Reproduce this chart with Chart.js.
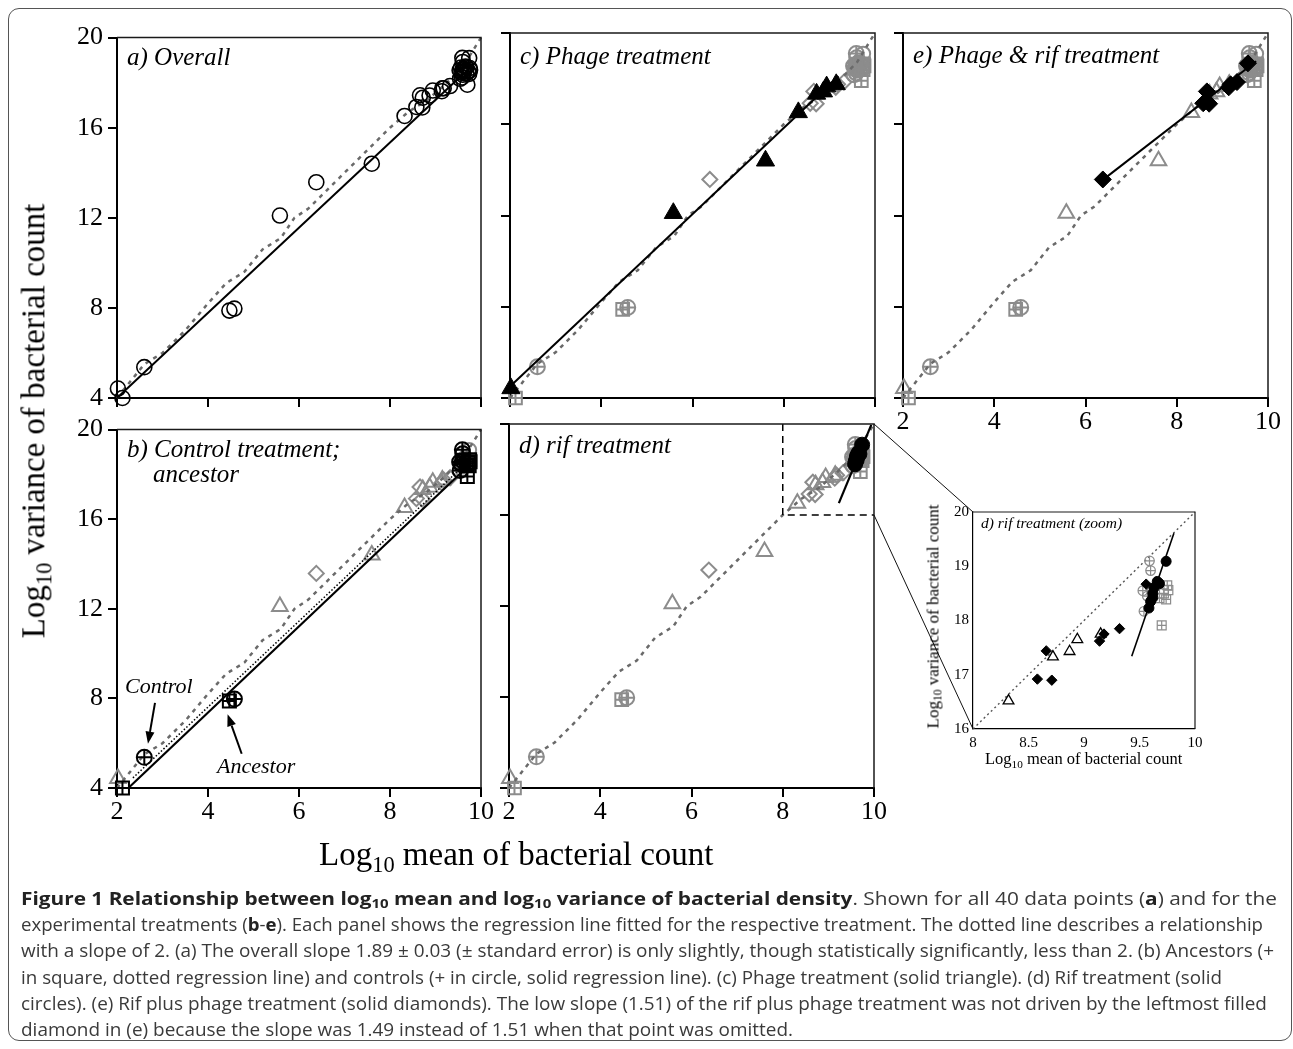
<!DOCTYPE html>
<html><head><meta charset="utf-8">
<script src="https://cdn.jsdelivr.net/npm/chart.js@4.4.1/dist/chart.umd.min.js"></script>
<style>
html,body{margin:0;padding:0;background:#fff}
body{width:1293px;height:1049px;position:relative;overflow:hidden}
canvas{position:absolute}
.t{position:absolute;white-space:nowrap;color:#000;font-family:'Liberation Serif','Times New Roman',serif}
.it{font-style:italic}
.sub{font-size:0.68em;position:relative;top:0.3em}
#border{position:absolute;left:8px;top:8px;width:1284px;height:1033px;border:1px solid #555;border-radius:11px;box-sizing:border-box}
#caption{position:absolute;left:21px;top:884.7px;font-family:'Open Sans',sans-serif;font-size:18px;line-height:26.3px;color:#3a3a3a}
#caption div{white-space:nowrap;width:max-content;transform-origin:0 0}
#caption b{color:#222}
#caption .cs{font-size:0.72em;position:relative;top:0.28em;line-height:0}
</style></head><body>
<div id="border"></div>
<canvas id="cA"></canvas>
<canvas id="cC"></canvas>
<canvas id="cE"></canvas>
<canvas id="cB"></canvas>
<canvas id="cD"></canvas>
<canvas id="cI"></canvas>
<canvas id="overlay" width="1293" height="1049" style="left:0;top:0;pointer-events:none"></canvas>

<div class="t it" id="tA">a) Overall</div>
<div class="t it" id="tC">c) Phage treatment</div>
<div class="t it" id="tE">e) Phage &amp; rif treatment</div>
<div class="t it" id="tB1">b) Control treatment;</div>
<div class="t it" id="tB2">ancestor</div>
<div class="t it" id="tD">d) rif treatment</div>
<div class="t it" id="tCtrl">Control</div>
<div class="t it" id="tAnc">Ancestor</div>
<div class="t it" id="tI">d) rif treatment (zoom)</div>
<div class="t" id="yTitle">Log<span class="sub">10</span> variance of bacterial count</div>
<div class="t" id="xTitle">Log<span class="sub">10</span> mean of bacterial count</div>
<div class="t" id="iyTitle">Log<span class="sub">10</span> variance of bacterial count</div>
<div class="t" id="ixTitle">Log<span class="sub">10</span> mean of bacterial count</div>

<div id="caption">
<div><b>Figure 1 Relationship between log<span class="cs">10</span> mean and log<span class="cs">10</span> variance of bacterial density</b>. Shown for all 40 data points (<b>a</b>) and for the</div>
<div>experimental treatments (<b>b</b>-<b>e</b>). Each panel shows the regression line fitted for the respective treatment. The dotted line describes a relationship</div>
<div>with a slope of 2. (a) The overall slope 1.89 ± 0.03 (± standard error) is only slightly, though statistically significantly, less than 2. (b) Ancestors (+</div>
<div>in square, dotted regression line) and controls (+ in circle, solid regression line). (c) Phage treatment (solid triangle). (d) Rif treatment (solid</div>
<div>circles). (e) Rif plus phage treatment (solid diamonds). The low slope (1.51) of the rif plus phage treatment was not driven by the leftmost filled</div>
<div>diamond in (e) because the slope was 1.49 instead of 1.51 when that point was omitted.</div>
</div>

<script>
// ================= DATA =================
// log10 mean (x) and log10 variance (y) per treatment group
const phageMean    = [2.02, 5.58, 7.60, 8.32, 8.72, 8.87, 8.94, 9.15];
const phageVar     = [4.42, 12.10, 14.40, 16.52, 17.33, 17.43, 17.65, 17.75];
const phageRifMean = [6.38, 8.58, 8.66, 8.71, 9.14, 9.18, 9.32, 9.56];
const phageRifVar  = [13.58, 16.92, 17.44, 16.90, 17.62, 17.75, 17.85, 18.67];
const rifMean      = [9.74, 9.66, 9.68, 9.63, 9.62, 9.62, 9.60, 9.585];
const rifVar       = [19.09, 18.72, 18.68, 18.60, 18.50, 18.42, 18.35, 18.23];
const controlMean  = [2.60, 4.58, 9.59, 9.60, 9.53, 9.54, 9.57, 9.60];
const controlVar   = [5.37, 7.97, 19.10, 18.92, 18.55, 18.17, 18.45, 18.60];
const ancestorMean = [2.12, 4.47, 9.75, 9.76, 9.74, 9.70, 9.68, 9.72];
const ancestorVar  = [4.00, 7.88, 18.65, 18.56, 18.39, 17.91, 18.41, 18.50];

// grey reference curve (slope-2 line as drawn)
const slope2Mean = [2.0, 2.6, 3.0, 3.5, 4.0, 4.4, 4.8, 5.2, 5.6, 5.9, 6.2, 6.6, 7.0, 7.5, 8.0, 8.4, 8.8, 9.2, 9.6, 10.0];
const slope2Var  = [4.0, 5.5, 6.0, 7.0, 8.2, 9.1, 9.6, 10.6, 11.1, 12.0, 12.4, 13.2, 14.0, 15.0, 16.0, 16.7, 17.2, 17.9, 18.7, 20.0];

// regression line end points
const regAllMean   = [2.0, 9.75],  regAllVar   = [4.0, 18.65];
const regCtrlMean  = [2.25, 9.68], regCtrlVar  = [4.0, 18.30];
const regAncMean   = [2.35, 9.65], regAncVar   = [4.45, 18.45];
const regPhageMean = [2.0, 9.2],   regPhageVar = [4.5, 18.1];
const regRifMean   = [9.23, 9.94], regRifVar   = [16.52, 19.96];
const regPRMean    = [6.38, 9.74], regPRVar    = [13.56, 18.76];
const insetRegMean = [9.43, 9.81], insetRegVar = [17.34, 19.61];
const insetSlope2Mean = [8, 10],   insetSlope2Var = [16, 20];
const zoomBoxMean  = [8, 8, 10],   zoomBoxVar  = [20, 16, 16];

// annotation arrows in panel b (tail -> head)
const ctrlArrowMean = [2.835, 2.68], ctrlArrowVar = [7.80, 5.98];
const ancArrowMean  = [4.74, 4.43],  ancArrowVar  = [5.53, 7.29];

// ticks
const xTicks = [2, 4, 6, 8, 10];
const yTicks = [4, 8, 12, 16, 20];
const insetXTicks = [8, 8.5, 9, 9.5, 10];
const insetYTicks = [16, 17, 18, 19, 20];

// ================= HELPERS =================
const GREY = '#8c8c8c';
const SERIF = "'Liberation Serif','Times New Roman',serif";
const groups = {
  phage: [phageMean, phageVar],
  phageRif: [phageRifMean, phageRifVar],
  rif: [rifMean, rifVar],
  control: [controlMean, controlVar],
  ancestor: [ancestorMean, ancestorVar]
};
const SHAPE = {phage:'triangle', phageRif:'rectRot', rif:'circle', control:'circle', ancestor:'rect'};
const pts = (xs, ys) => xs.map((x, i) => ({x, y: ys[i]}));

function markers(key, color, radius, filled, lw, clip, shapeOverride) {
  const [xs, ys] = groups[key];
  const data = pts(xs, ys);
  const base = {type:'scatter', showLine:false, clip: clip, pointBorderWidth: lw, pointHoverRadius: radius, pointBorderColor: color};
  const out = [Object.assign({}, base, {data, pointStyle: shapeOverride || SHAPE[key], pointRadius: radius,
      pointBackgroundColor: filled ? color : 'rgba(0,0,0,0)'})];
  if (!shapeOverride && key === 'control') out.push(Object.assign({}, base, {data, pointStyle:'cross', pointRadius: radius}));
  if (!shapeOverride && key === 'ancestor') out.push(Object.assign({}, base, {data, pointStyle:'cross', pointRadius: radius * Math.SQRT1_2}));
  return out;
}
function line(xs, ys, color, width, dash) {
  return {type:'scatter', showLine:true, data: pts(xs, ys), borderColor: color, borderWidth: width,
          borderDash: dash || [], pointRadius: 0, pointHoverRadius: 0, fill:false, tension:0, clip: false};
}
function axisCfg(ticksArr, min, max, showLabels, fontSize, fixed, horiz, tickLen, pad, lw) {
  return {
    type:'linear', min, max,
    afterBuildTicks: s => { s.ticks = ticksArr.map(v => ({value: v})); },
    afterFit: s => { if (horiz) s.height = fixed; else s.width = fixed; },
    grid: {drawOnChartArea:false, drawTicks: tickLen > 0, tickLength: tickLen, color:'#000', lineWidth: lw},
    border: {display:true, color:'#000', width: lw},
    ticks: {display: showLabels, color:'#000', font:{family: SERIF, size: fontSize}, padding: pad, autoSkip:false, maxRotation:0,
            callback: v => String(v)}
  };
}
const framePlugin = {
  id:'frame',
  afterDraw(chart, args, o) {
    const a = chart.chartArea, c = chart.ctx;
    c.save(); c.strokeStyle = '#1a1a1a'; c.lineWidth = o.w || 1.5;
    c.beginPath(); c.moveTo(a.left, a.top); c.lineTo(a.right, a.top); c.lineTo(a.right, a.bottom); c.stroke();
    c.restore();
  }
};
const arrowPlugin = {
  id:'arrows',
  afterDatasetsDraw(chart, args, o) {
    if (!o.list) return;
    const c = chart.ctx, xs = chart.scales.x, ys = chart.scales.y;
    c.save(); c.strokeStyle = '#000'; c.fillStyle = '#000'; c.lineWidth = 2;
    o.list.forEach(([mx, vy]) => {
      const x0 = xs.getPixelForValue(mx[0]), y0 = ys.getPixelForValue(vy[0]);
      const x1 = xs.getPixelForValue(mx[1]), y1 = ys.getPixelForValue(vy[1]);
      const ang = Math.atan2(y1 - y0, x1 - x0), L = 12, W = 4.5;
      const bx = x1 - L * Math.cos(ang), by = y1 - L * Math.sin(ang);
      c.beginPath(); c.moveTo(x0, y0); c.lineTo(bx, by); c.stroke();
      c.beginPath(); c.moveTo(x1, y1);
      c.lineTo(bx + W * Math.sin(ang), by - W * Math.cos(ang));
      c.lineTo(bx - W * Math.sin(ang), by + W * Math.cos(ang));
      c.closePath(); c.fill();
    });
    c.restore();
  }
};

// ================= LAYOUT =================
const PAD_T = 16, PAD_R = 16, YW = 60, XH = 45;
function makePanel(id, plotL, plotT, plotW, plotH, datasets, showX, showY, extra) {
  const cv = document.getElementById(id);
  cv.width = plotW + YW + PAD_R; cv.height = plotH + PAD_T + XH;
  cv.style.left = (plotL - YW) + 'px'; cv.style.top = (plotT - PAD_T) + 'px';
  datasets.forEach((d, i) => { d.order = 1000 - i; });
  return new Chart(cv, {
    data: {datasets},
    options: {
      responsive:false, animation:false, devicePixelRatio:1, events: [],
      layout: {padding: {top: PAD_T, right: PAD_R, left: 0, bottom: 0}},
      scales: {
        x: axisCfg(xTicks, 2, 10, showX, 26, XH, true, 9, 0, 2),
        y: axisCfg(yTicks, 4, 20, showY, 26, YW, false, 9, 5, 2)
      },
      plugins: Object.assign({legend:{display:false}, tooltip:{enabled:false}, frame:{w:1.5}}, extra || {})
    },
    plugins: [framePlugin, arrowPlugin]
  });
}

const allKeys = ['phage', 'phageRif', 'rif', 'control', 'ancestor'];
const greyR = {phage: 9, phageRif: 7.5, rif: 7, control: 7.5, ancestor: 9};
function greySets(keys) {
  let out = [];
  keys.forEach(k => { out = out.concat(markers(k, GREY, greyR[k], false, 2, false)); });
  return out;
}
const curve = () => line(slope2Mean, slope2Var, '#6a6a6a', 2.5, [4, 5]);

// Panel a: all 40 points as open circles
let dsA = [curve(), line(regAllMean, regAllVar, '#000', 2)];
allKeys.forEach(k => { dsA = dsA.concat(markers(k, '#000', 7.5, false, 1.6, false, 'circle')); });
const chA = makePanel('cA', 117, 33, 364, 365, dsA, false, true);

// Panel c: phage
const dsC = greySets(['phageRif', 'rif', 'control', 'ancestor']).concat(
  [curve(), line(regPhageMean, regPhageVar, '#000', 2)], markers('phage', '#000', 10.5, true, 1, false));
const chC = makePanel('cC', 510, 33, 365, 365, dsC, false, false);

// Panel e: phage & rif
const dsE = greySets(['phage', 'rif', 'control', 'ancestor']).concat(
  [curve(), line(regPRMean, regPRVar, '#000', 2)], markers('phageRif', '#000', 8.5, true, 1, false));
const chE = makePanel('cE', 903, 33, 365, 365, dsE, true, false);

// Panel b: control & ancestor
const dsB = greySets(['phage', 'phageRif', 'rif']).concat(
  [curve(), line(regAncMean, regAncVar, '#000', 1.5, [1.5, 2]), line(regCtrlMean, regCtrlVar, '#000', 2.2)],
  markers('ancestor', '#000', 9.2, false, 2, false), markers('control', '#000', 7.5, false, 2, false));
const chB = makePanel('cB', 117, 425, 364, 363, dsB, true, true,
  {arrows: {list: [[ctrlArrowMean, ctrlArrowVar], [ancArrowMean, ancArrowVar]]}});

// Panel d: rif
const dsD = greySets(['phage', 'phageRif', 'control', 'ancestor']).concat(
  [curve(), line(zoomBoxMean, zoomBoxVar, '#000', 1.5, [7, 5]), line(regRifMean, regRifVar, '#000', 2.2)],
  markers('rif', '#000', 7.5, true, 1, false));
const chD = makePanel('cD', 509, 424, 365, 364, dsD, true, false);

// Inset: zoom of rif treatment
const IL = 973, IT = 509, IW = 222, IH = 220, IYW = 28, IXH = 26, IPT = 10, IPR = 14;
let chI;
(function () {
  const cv = document.getElementById('cI');
  cv.width = IW + IYW + IPR; cv.height = IH + IPT + IXH;
  cv.style.left = (IL - IYW) + 'px'; cv.style.top = (IT - IPT) + 'px';
  const ds = [].concat(
    [line(insetSlope2Mean, insetSlope2Var, '#555', 1.4, [2, 3])],
    markers('ancestor', GREY, 6.3, false, 1.2, 4),
    markers('control', GREY, 4.8, false, 1.2, 4),
    markers('phage', '#000', 6.2, false, 1.3, 4),
    markers('phageRif', '#000', 5.2, true, 1, 4),
    [line(insetRegMean, insetRegVar, '#000', 1.6)],
    markers('rif', '#000', 5, true, 1, 4)
  );
  ds.forEach((d, i) => { d.order = 1000 - i; });
  chI = new Chart(cv, {
    data: {datasets: ds},
    options: {
      responsive:false, animation:false, devicePixelRatio:1, events: [],
      layout: {padding: {top: IPT, right: IPR, left: 0, bottom: 0}},
      scales: {
        x: axisCfg(insetXTicks, 8, 10, true, 15, IXH, true, 0, 5, 1.2),
        y: axisCfg(insetYTicks, 16, 20, true, 15, IYW, false, 0, 4, 1.2)
      },
      plugins: {legend:{display:false}, tooltip:{enabled:false}, frame:{w:1.2}}
    },
    plugins: [framePlugin]
  });
})();

// connector lines from the zoom box in panel d to the inset
(function () {
  const ov = document.getElementById('overlay').getContext('2d');
  const cd = document.getElementById('cD'), ci = document.getElementById('cI');
  const dl = parseFloat(cd.style.left), dt = parseFloat(cd.style.top);
  const il = parseFloat(ci.style.left), it = parseFloat(ci.style.top);
  const p = (ch, l, t, x, y) => [l + ch.scales.x.getPixelForValue(x), t + ch.scales.y.getPixelForValue(y)];
  const a1 = p(chD, dl, dt, zoomBoxMean[2], zoomBoxVar[0]), b1 = p(chI, il, it, insetXTicks[0], insetYTicks[4]);
  const a2 = p(chD, dl, dt, zoomBoxMean[2], zoomBoxVar[2]), b2 = p(chI, il, it, insetXTicks[0], insetYTicks[0]);
  ov.strokeStyle = '#111'; ov.lineWidth = 1;
  ov.beginPath(); ov.moveTo(a1[0], a1[1]); ov.lineTo(b1[0], b1[1]); ov.moveTo(a2[0], a2[1]); ov.lineTo(b2[0], b2[1]); ov.stroke();
})();

// ================= TEXT PLACEMENT =================
function place(id, left, baseline, fs) {
  const el = document.getElementById(id);
  el.style.fontSize = fs + 'px'; el.style.lineHeight = fs + 'px';
  el.style.left = left + 'px'; el.style.top = (baseline - 0.8375 * fs) + 'px';
}
place('tA', 127, 65, 25);
place('tC', 520, 64, 25);
place('tE', 913, 63, 25);
place('tB1', 127, 457, 25);
place('tB2', 153, 482, 25);
place('tD', 519, 453, 25);
place('tCtrl', 125, 693, 22);
place('tAnc', 217, 773, 22);
place('tI', 981, 528, 15.5);
place('xTitle', 319, 866, 33);
place('ixTitle', 985, 765, 16.5);
function vplace(id, cx, cy, fs) {
  const el = document.getElementById(id);
  el.style.fontSize = fs + 'px'; el.style.lineHeight = fs + 'px';
  const w = el.getBoundingClientRect().width;
  el.style.left = (cx - w / 2) + 'px'; el.style.top = (cy - fs / 2) + 'px';
  el.style.transformOrigin = 'center center'; el.style.transform = 'rotate(-90deg)';
}
vplace('yTitle', 35, 419, 33);
vplace('iyTitle', 934, 615, 17);

// caption: condense each line to the reference line length
(function () {
  const ends = [1277, 1263, 1274, 1222, 1267, 793];
  const lines = document.querySelectorAll('#caption > div');
  lines.forEach((d, i) => {
    const w = d.getBoundingClientRect().width;
    d.style.transform = 'scaleX(' + ((ends[i] - 21) / w).toFixed(4) + ')';
  });
})();
</script>
</body></html>
